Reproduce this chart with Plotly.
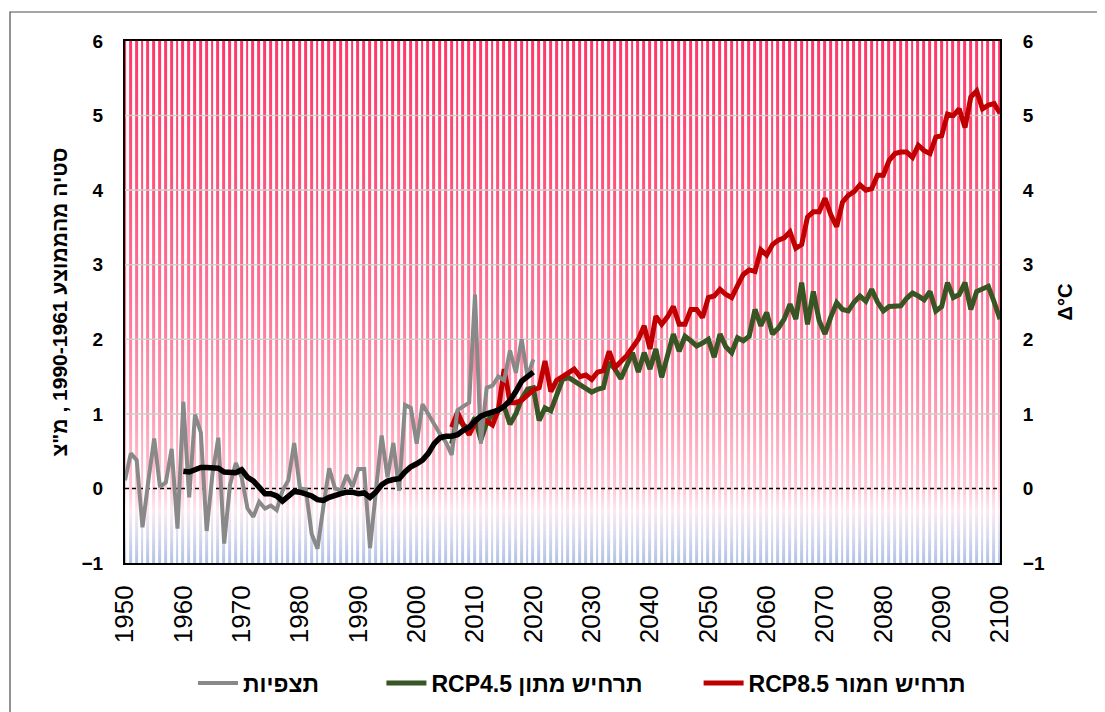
import numpy as np
import plotly.graph_objects as go

# ---------------- data ----------------
obs_years = list(range(1950, 2021))
obs_values = [0.11, 0.47, 0.38, -0.52, 0.10, 0.67, 0.02, 0.08, 0.53, -0.54,
              1.16, -0.12, 0.99, 0.75, -0.57, 0.20, 0.68, -0.74, 0.05, 0.34,
              0.15, -0.27, -0.38, -0.18, -0.27, -0.23, -0.29, -0.03, 0.11, 0.61,
              0.00, -0.01, -0.61, -0.81, -0.25, 0.27, 0.00, -0.03, 0.18, 0.02,
              0.26, 0.26, -0.80, 0.00, 0.71, 0.15, 0.61, -0.03, 1.12, 1.08,
              0.60, 1.13, 1.00, 0.85, 0.73, 0.62, 0.45, 1.05, 1.10, 1.15,
              2.60, 0.60, 1.35, 1.38, 1.50, 1.45, 1.85, 1.55, 2.00, 1.50,
              1.73]

mean_years = list(range(1960, 2021))
mean_values = [0.23, 0.22, 0.25, 0.28, 0.28, 0.28, 0.27, 0.22, 0.21, 0.21,
               0.25, 0.15, 0.10, 0.02, -0.07, -0.07, -0.10, -0.17, -0.10, -0.04,
               -0.05, -0.08, -0.10, -0.15, -0.16, -0.12, -0.09, -0.07, -0.05, -0.05,
               -0.07, -0.06, -0.12, -0.05, 0.05, 0.10, 0.12, 0.13, 0.22, 0.29,
               0.33, 0.38, 0.47, 0.60, 0.68, 0.70, 0.70, 0.72, 0.78, 0.82,
               0.90, 0.97, 1.00, 1.02, 1.05, 1.10, 1.18, 1.30, 1.44, 1.50,
               1.56]

proj_years = list(range(2006, 2101))
rcp85 = [0.82, 1.02, 0.85, 0.72, 0.88, 0.95, 0.90, 0.85, 1.05, 1.60,   # 2006-2015
         1.15, 1.15, 1.18, 1.25, 1.32, 1.35, 1.71, 1.30, 1.45, 1.50,   # 2016-2025
         1.55, 1.60, 1.50, 1.52, 1.46, 1.56, 1.58, 1.84, 1.62, 1.70,   # 2026-2035
         1.78, 1.89, 2.00, 2.18, 1.87, 2.31, 2.20, 2.30, 2.44, 2.20,   # 2036-2045
         2.20, 2.40, 2.40, 2.29, 2.56, 2.58, 2.67, 2.60, 2.56, 2.72,   # 2046-2055
         2.87, 2.93, 2.91, 3.20, 3.13, 3.27, 3.33, 3.36, 3.44, 3.22,   # 2056-2065
         3.27, 3.64, 3.71, 3.71, 3.89, 3.67, 3.51, 3.84, 3.93, 3.98,   # 2066-2075
         4.07, 4.00, 4.02, 4.20, 4.20, 4.40, 4.49, 4.51, 4.51, 4.44,   # 2076-2085
         4.60, 4.53, 4.49, 4.71, 4.73, 5.02, 5.00, 5.09, 4.84, 5.25,   # 2086-2095
         5.33, 5.09, 5.14, 5.16, 5.03]                                 # 2096-2100
rcp45 = [0.60, 0.95, 0.85, 0.80, 0.95, 0.65, 0.88, 1.00, 1.06, 1.10,   # 2006-2015
         0.86, 1.00, 1.20, 1.33, 1.35, 0.91, 1.08, 1.04, 1.25, 1.46,   # 2016-2025
         1.49, 1.44, 1.38, 1.33, 1.29, 1.33, 1.35, 1.69, 1.60, 1.47,   # 2026-2035
         1.65, 1.82, 1.56, 1.82, 1.60, 1.87, 1.49, 1.80, 2.07, 1.84,   # 2036-2045
         2.04, 1.98, 1.91, 1.95, 2.00, 1.76, 2.07, 1.90, 1.82, 2.02,   # 2046-2055
         1.98, 2.04, 2.40, 2.18, 2.36, 2.07, 2.15, 2.27, 2.47, 2.27,   # 2056-2065
         2.76, 2.20, 2.64, 2.25, 2.07, 2.30, 2.49, 2.40, 2.38, 2.50,   # 2066-2075
         2.58, 2.51, 2.67, 2.50, 2.38, 2.44, 2.45, 2.45, 2.55, 2.62,   # 2076-2085
         2.58, 2.53, 2.64, 2.38, 2.44, 2.76, 2.56, 2.60, 2.76, 2.40,   # 2086-2095
         2.64, 2.68, 2.71, 2.50, 2.27]                                 # 2096-2100

stripe_years = list(range(1950, 2101))
x_ticks = list(range(1950, 2101, 10))
y_ticks = list(range(-1, 7))

NB = "\u00a0"
name_obs = "\u202Bתצפיות\u202C" + NB * 9
name_45 = "\u202Bתרחיש מתון RCP4.5\u202C" + NB * 8
name_85 = "\u202Bתרחיש חמור RCP8.5\u202C"
y_title = "\u202Bסטיה מהממוצע 1990-1961 , מ\"צ\u202C"
y2_title = "Δ°C"

FONT = "Liberation Sans, Arial, sans-serif"

# page body has an 8px default margin: keep the figure inside the window
W, H = 1097, 704
ML, MR, MT, MB = 117, 105, 33, 149
PW, PH = W - ML - MR, H - MT - MB

# ---------------- figure ----------------
fig = go.Figure()

# warming-stripe style background (one stripe per year, coloured by height)
y_grid = np.linspace(-1, 6, 141)
z = np.tile(y_grid.reshape(-1, 1), (1, len(stripe_years)))
stripe_scale = [
    [0.000, "rgb(175,192,230)"],
    [0.057, "rgb(220,220,240)"],
    [0.100, "rgb(252,232,240)"],
    [0.143, "rgb(255,200,215)"],
    [0.286, "rgb(255,155,180)"],
    [0.500, "rgb(255,115,150)"],
    [0.714, "rgb(255,85,125)"],
    [1.000, "rgb(255,55,105)"],
]
fig.add_trace(go.Heatmap(
    x=stripe_years, y=y_grid, z=z, zmin=-1, zmax=6,
    colorscale=stripe_scale, showscale=False, xgap=3, ygap=0,
    hoverinfo="skip", yaxis="y"))

# horizontal grid lines drawn over the stripes
gx, gy = [], []
for v in y_ticks:
    if v in (-1, 0, 6):
        continue
    gx += [stripe_years[0], stripe_years[-1], None]
    gy += [v, v, None]
fig.add_trace(go.Scatter(x=gx, y=gy, mode="lines",
                         line=dict(color="rgba(205,205,205,0.9)", width=1.6),
                         hoverinfo="skip", showlegend=False, yaxis="y"))
# dashed zero line
fig.add_trace(go.Scatter(x=[stripe_years[0], stripe_years[-1]], y=[0, 0], mode="lines",
                         line=dict(color="black", width=1.5, dash="4px,3px"),
                         hoverinfo="skip", showlegend=False, yaxis="y"))

fig.add_trace(go.Scatter(x=proj_years, y=rcp45, mode="lines", name=name_45,
                         line=dict(color="#375623", width=5), legendrank=2, yaxis="y2"))
fig.add_trace(go.Scatter(x=proj_years, y=rcp85, mode="lines", name=name_85,
                         line=dict(color="#c00000", width=5), legendrank=3, yaxis="y2"))
fig.add_trace(go.Scatter(x=obs_years, y=obs_values, mode="lines", name=name_obs,
                         line=dict(color="#898989", width=4), legendrank=1, yaxis="y2"))
fig.add_trace(go.Scatter(x=mean_years, y=mean_values, mode="lines", showlegend=False,
                         line=dict(color="black", width=5.5), yaxis="y2"))

axis_common = dict(range=[-1, 6], tickvals=y_ticks, showgrid=False, zeroline=False,
                   showline=True, linecolor="black", linewidth=2,
                   tickfont=dict(family=FONT, size=19, color="black", weight="bold"),
                   ticks="")

fig.update_layout(
    width=W, height=H,
    margin=dict(l=ML, r=MR, t=MT, b=MB, autoexpand=False),
    paper_bgcolor="white", plot_bgcolor="white",
    font=dict(family=FONT, color="black"),
    xaxis=dict(range=[1950, 2100], tickvals=x_ticks, tickangle=-90,
               showgrid=False, zeroline=False, showline=True, mirror=True,
               linecolor="black", linewidth=2, ticks="",
               ticklabelstandoff=10,
               tickfont=dict(family=FONT, size=26, color="black")),
    yaxis=dict(**axis_common, side="left", ticklabelstandoff=16,
               title=dict(text=y_title, standoff=8,
                          font=dict(family=FONT, size=21, color="black", weight="bold"))),
    yaxis2=dict(**axis_common, side="right", overlaying="y", ticklabelstandoff=17,
                title=dict(text=y2_title, standoff=14,
                           font=dict(family=FONT, size=20, color="black", weight="bold"))),
    legend=dict(orientation="h", x=(193 - 8 - ML) / PW, xanchor="left",
                y=-(683 - 8 - (MT + PH)) / PH, yanchor="middle",
                font=dict(family=FONT, size=23, color="black", weight="bold"),
                bgcolor="rgba(0,0,0,0)", itemwidth=40, traceorder="normal"),
    showlegend=True,
)

# outer chart border (left/top edges visible)
fig.add_shape(type="rect", xref="paper", yref="paper",
              x0=(2 - ML) / PW, x1=(W + 20 - ML) / PW,
              y0=-(H + 20 - (MT + PH)) / PH, y1=1 + (MT - 4) / PH,
              line=dict(color="#4d4d4d", width=1.2), fillcolor="rgba(0,0,0,0)", layer="below")

fig.write_html("out.html")
